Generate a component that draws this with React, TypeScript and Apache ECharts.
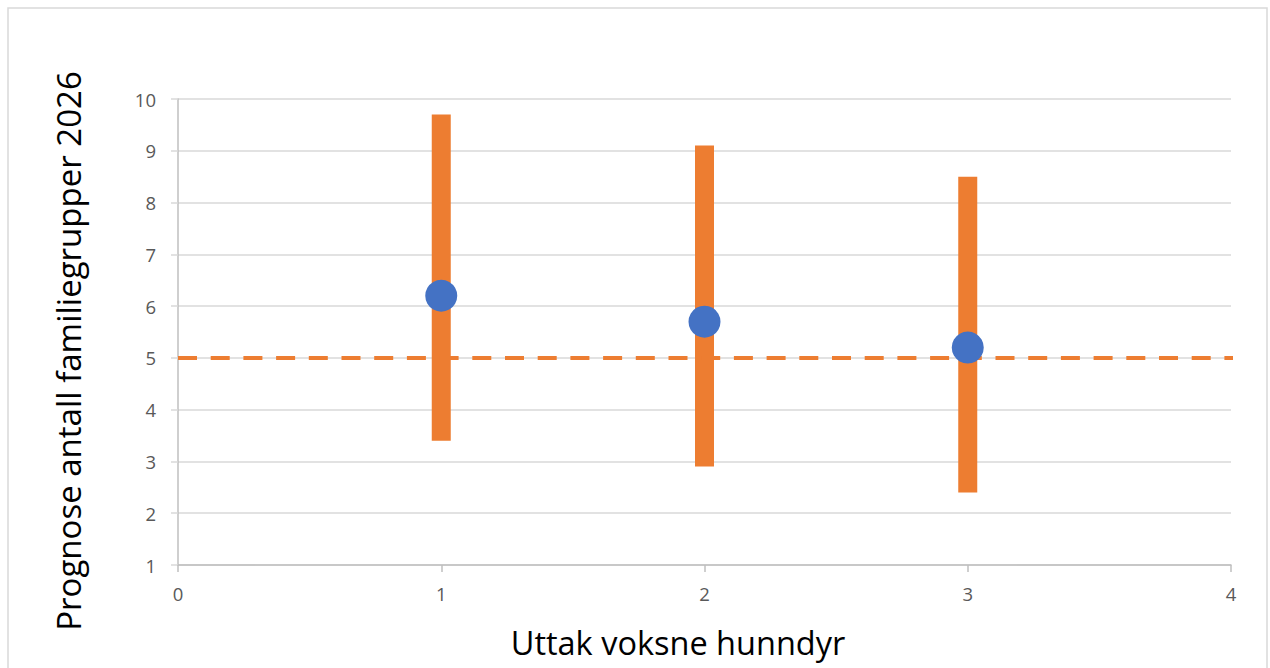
import React, { useEffect, useRef } from "react";
import * as echarts from "echarts";

const xCats = [1, 2, 3];
const lowVals = [3.4, 2.9, 2.4];
const highVals = [9.7, 9.1, 8.5];
const pointVals = [6.2, 5.7, 5.2];
const refLine = [
  [0, 5],
  [4.045, 5],
];
const yTitle = "Prognose antall familiegrupper 2026";
const xTitle = "Uttak voksne hunndyr";

export default function App() {
  const ref = useRef<HTMLDivElement>(null);
  useEffect(() => {
    document.body.style.margin = "0";
    const chart = echarts.init(ref.current!, null, { renderer: "svg" });
    const font = "'Open Sans', Lato, sans-serif";
    chart.setOption({
      animation: false,
      backgroundColor: "#fff",
      grid: { left: 178, right: 39, top: 99, bottom: 103 },
      xAxis: {
        type: "value",
        min: 0,
        max: 4,
        interval: 1,
        axisLine: { show: true, lineStyle: { color: "#bfbfbf", width: 1.5 } },
        axisTick: { show: true, length: 7, lineStyle: { color: "#bfbfbf", width: 1.5 } },
        splitLine: { show: false },
        axisLabel: { color: "#595959", fontSize: 18.5, fontFamily: font, margin: 19 },
      },
      yAxis: {
        type: "value",
        min: 1,
        max: 10,
        interval: 1,
        axisLine: { show: true, onZero: false, lineStyle: { color: "#bfbfbf", width: 1.5 } },
        axisTick: { show: true, length: 7, lineStyle: { color: "#d9d9d9", width: 1.5 } },
        splitLine: { show: true, lineStyle: { color: "#d9d9d9", width: 1.5 } },
        axisLabel: { color: "#595959", fontSize: 18.5, fontFamily: font, margin: 22 },
      },
      graphic: [
        {
          type: "rect",
          shape: { x: 8, y: 8, width: 1259, height: 700 },
          style: { fill: "none", stroke: "#d9d9d9", lineWidth: 1.5 },
          z: -10,
          silent: true,
        },
        {
          type: "text",
          x: 68,
          y: 351,
          rotation: Math.PI / 2,
          style: {
            text: yTitle,
            font: `33px ${font}`,
            fill: "#000",
            align: "center",
            verticalAlign: "middle",
          },
        },
        {
          type: "text",
          x: 678,
          y: 642,
          style: {
            text: xTitle,
            font: `32.5px ${font}`,
            fill: "#000",
            align: "center",
            verticalAlign: "middle",
          },
        },
      ],
      series: [
        {
          type: "custom",
          data: xCats.map((x, i) => [x, lowVals[i], highVals[i]]),
          renderItem: (params: any, api: any) => {
            const lo = api.coord([api.value(0), api.value(1)]);
            const hi = api.coord([api.value(0), api.value(2)]);
            const w = 19;
            return {
              type: "rect",
              shape: { x: lo[0] - w / 2, y: hi[1], width: w, height: lo[1] - hi[1] },
              style: { fill: "#ED7D31" },
            };
          },
          z: 2,
        },
        {
          type: "line",
          data: refLine,
          clip: false,
          symbol: "none",
          lineStyle: { color: "#ED7D31", width: 4, type: [19, 13.7] },
          z: 3,
        },
        {
          type: "scatter",
          data: xCats.map((x, i) => [x, pointVals[i]]),
          symbol: "circle",
          symbolSize: 32,
          itemStyle: { color: "#4472C4", opacity: 1 },
          z: 4,
        },
      ],
    });
    return () => chart.dispose();
  }, []);
  return <div ref={ref} style={{ width: 1270, height: 668 }} />;
}
